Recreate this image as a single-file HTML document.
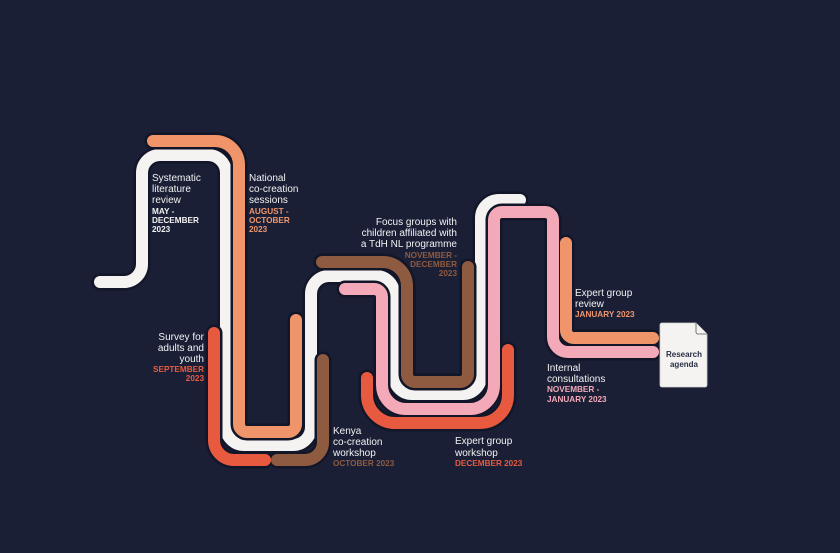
<!DOCTYPE html>
<html><head><meta charset="utf-8"><style>
html,body{margin:0;padding:0;background:#1a1f36;}
svg{display:block}
text{font-family:"Liberation Sans",sans-serif;}
.t{fill:#f2f2f2;font-size:10px;font-weight:500}
.d{font-size:8.2px;font-weight:700}
</style></head><body>
<svg width="840" height="553" viewBox="0 0 840 553" xmlns="http://www.w3.org/2000/svg">
<rect width="840" height="553" fill="#1a1f36"/>
<g fill="none" stroke-linecap="round">
<g stroke="#121628" stroke-width="17">
<path d="M100 282 H124 A18 18 0 0 0 142 264 V173 A18 18 0 0 1 160 155 H208 A18 18 0 0 1 226 173 V427 A18 18 0 0 0 244 445 H293 A18 18 0 0 0 311 427 V294 A18 18 0 0 1 329 276 H376 A18 18 0 0 1 394 294 V376 A18 18 0 0 0 412 394 H463 A18 18 0 0 0 481 376 V218 A18 18 0 0 1 499 200 H520"/>
</g>
<path stroke="#f4f3f1" stroke-width="12" d="M100 282 H124 A18 18 0 0 0 142 264 V173 A18 18 0 0 1 160 155 H208 A18 18 0 0 1 226 173 V427 A18 18 0 0 0 244 445 H293 A18 18 0 0 0 311 427 V294 A18 18 0 0 1 329 276 H376 A18 18 0 0 1 394 294 V376 A18 18 0 0 0 412 394 H463 A18 18 0 0 0 481 376 V218 A18 18 0 0 1 499 200 H520"/>
<g stroke="#121628" stroke-width="17">
<path d="M153 141 H215 A24 24 0 0 1 239 165 V424 A8 8 0 0 0 247 432 H288 A8 8 0 0 0 296 424 V320"/>
<path d="M214 333 V440 A20 20 0 0 0 234 460 H265"/>
<path d="M277 460 H305 A18 18 0 0 0 323 442 V360"/>
<path d="M322 262 H383 A24 24 0 0 1 407 286 V374 A8 8 0 0 0 415 382 H460 A8 8 0 0 0 468 374 V267"/>
<path d="M345 289 H374 A8 8 0 0 1 382 297 V385 A24 24 0 0 0 406 409 H470 A24 24 0 0 0 494 385 V220 A8 8 0 0 1 502 212 H545 A8 8 0 0 1 553 220 V337 A15 15 0 0 0 568 352 H653"/>
<path d="M367 378 V395 A28 28 0 0 0 395 423 H480 A28 28 0 0 0 508 395 V350"/>
<path d="M566 243 V330 A8 8 0 0 0 574 338 H653"/>
</g>
<path stroke="#f0956a" stroke-width="12" d="M153 141 H215 A24 24 0 0 1 239 165 V424 A8 8 0 0 0 247 432 H288 A8 8 0 0 0 296 424 V320"/>
<path stroke="#e85a3f" stroke-width="12" d="M214 333 V440 A20 20 0 0 0 234 460 H265"/>
<path stroke="#8e5a40" stroke-width="12" d="M277 460 H305 A18 18 0 0 0 323 442 V360"/>
<path stroke="#8e5a40" stroke-width="12" d="M322 262 H383 A24 24 0 0 1 407 286 V374 A8 8 0 0 0 415 382 H460 A8 8 0 0 0 468 374 V267"/>
<path stroke="#f4a9b8" stroke-width="12" d="M345 289 H374 A8 8 0 0 1 382 297 V385 A24 24 0 0 0 406 409 H470 A24 24 0 0 0 494 385 V220 A8 8 0 0 1 502 212 H545 A8 8 0 0 1 553 220 V337 A15 15 0 0 0 568 352 H653"/>
<path stroke="#e85a3f" stroke-width="12" d="M367 378 V395 A28 28 0 0 0 395 423 H480 A28 28 0 0 0 508 395 V350"/>
<path stroke="#f0956a" stroke-width="12" d="M566 243 V330 A8 8 0 0 0 574 338 H653"/>
</g>
<path d="M662 323 H696 L707 334 V385 A2 2 0 0 1 705 387 H662 A2 2 0 0 1 660 385 V325 A2 2 0 0 1 662 323Z" fill="#f4f3f1" stroke="#cfcfcf" stroke-width="0.8"/>
<path d="M696 323 V332 A2 2 0 0 0 698 334 H707" fill="#f4f3f1" stroke="#555" stroke-width="0.8"/>
<text x="684" y="357" text-anchor="middle" style="font-size:8px;font-weight:700;fill:#2a2f45">Research</text>
<text x="684" y="367" text-anchor="middle" style="font-size:8px;font-weight:700;fill:#2a2f45">agenda</text>

<g class="t">
<text x="152" y="181">Systematic</text><text x="152" y="192">literature</text><text x="152" y="203">review</text>
<text x="249" y="181">National</text><text x="249" y="192">co-creation</text><text x="249" y="203">sessions</text>
<g text-anchor="end"><text x="204" y="340">Survey for</text><text x="204" y="351">adults and</text><text x="204" y="362">youth</text></g>
<text x="333" y="434">Kenya</text><text x="333" y="445">co-creation</text><text x="333" y="456">workshop</text>
<g text-anchor="end"><text x="457" y="225">Focus groups with</text><text x="457" y="236">children affiliated with</text><text x="457" y="247">a TdH NL programme</text></g>
<text x="455" y="444">Expert group</text><text x="455" y="456">workshop</text>
<text x="575" y="296">Expert group</text><text x="575" y="307">review</text>
<text x="547" y="371">Internal</text><text x="547" y="382">consultations</text>
</g>
<g class="d">
<g fill="#f2f2f2"><text x="152" y="214">MAY -</text><text x="152" y="223">DECEMBER</text><text x="152" y="232">2023</text></g>
<g fill="#f0956a"><text x="249" y="214">AUGUST -</text><text x="249" y="223">OCTOBER</text><text x="249" y="232">2023</text></g>
<g fill="#e85a3f" text-anchor="end"><text x="204" y="372">SEPTEMBER</text><text x="204" y="381">2023</text></g>
<text x="333" y="466" fill="#8e5a40">OCTOBER 2023</text>
<g fill="#8e5a40" text-anchor="end"><text x="457" y="258">NOVEMBER -</text><text x="457" y="267">DECEMBER</text><text x="457" y="276">2023</text></g>
<text x="455" y="466" fill="#e85a3f">DECEMBER 2023</text>
<text x="575" y="317" fill="#f0956a">JANUARY 2023</text>
<g fill="#f4a9b8"><text x="547" y="392">NOVEMBER -</text><text x="547" y="402">JANUARY 2023</text></g>
</g>
</svg>
</body></html>
